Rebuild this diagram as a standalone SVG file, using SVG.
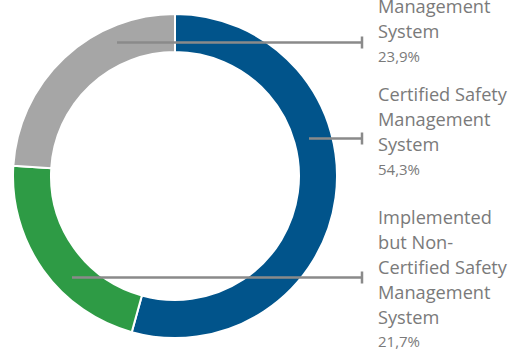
<svg xmlns="http://www.w3.org/2000/svg" width="516" height="354" viewBox="0 0 516 354">
<style>
.seg{stroke:#ffffff;stroke-width:2;stroke-linejoin:miter}
.lead{stroke:#8a8a8a;stroke-width:2.5;fill:none}
.lbl{font-family:"Open Sans","Liberation Sans",sans-serif;font-size:18.2px;fill:#7a7a7a}
.pct{font-family:"Open Sans","Liberation Sans",sans-serif;font-size:15px;fill:#7a7a7a}
</style>
<rect width="516" height="354" fill="#ffffff"/>
<g id="slice-certified">
<path class="seg" fill="#01548b" d="M175,14 A162,162 0 1 1 131.76,332.12 L141.90,295.50 A124,124 0 1 0 175,52 Z"/>
</g>
<g id="slice-implemented">
<path class="seg" fill="#2e9b45" d="M131.76,332.12 A162,162 0 0 1 13.32,165.83 L51.24,168.21 A124,124 0 0 0 141.90,295.50 Z"/>
</g>
<g id="slice-non-implemented">
<path class="seg" fill="#a6a6a6" d="M13.32,165.83 A162,162 0 0 1 175,14 L175,52 A124,124 0 0 0 51.24,168.21 Z"/>
</g>
<g id="connectors">
<path class="lead" d="M117,42.5 H362 M362,36.5 V48.5"/>
<path class="lead" d="M309,138.5 H362 M362,132.5 V144.5"/>
<path class="lead" d="M72,277.5 H362 M362,271.5 V283.5"/>
</g>
<g id="label-non-implemented">
<text class="lbl" x="378" y="13">Management</text>
<text class="lbl" x="378" y="38">System</text>
<text class="pct" x="378" y="62">23,9%</text>
</g>
<g id="label-certified">
<text class="lbl" x="378" y="100.5">Certified Safety</text>
<text class="lbl" x="378" y="125.5">Management</text>
<text class="lbl" x="378" y="150.5">System</text>
<text class="pct" x="378" y="174.5">54,3%</text>
</g>
<g id="label-implemented">
<text class="lbl" x="378" y="223.5">Implemented</text>
<text class="lbl" x="378" y="248.5">but Non-</text>
<text class="lbl" x="378" y="273.5">Certified Safety</text>
<text class="lbl" x="378" y="298.5">Management</text>
<text class="lbl" x="378" y="323.5">System</text>
<text class="pct" x="378" y="347">21,7%</text>
</g>
</svg>
